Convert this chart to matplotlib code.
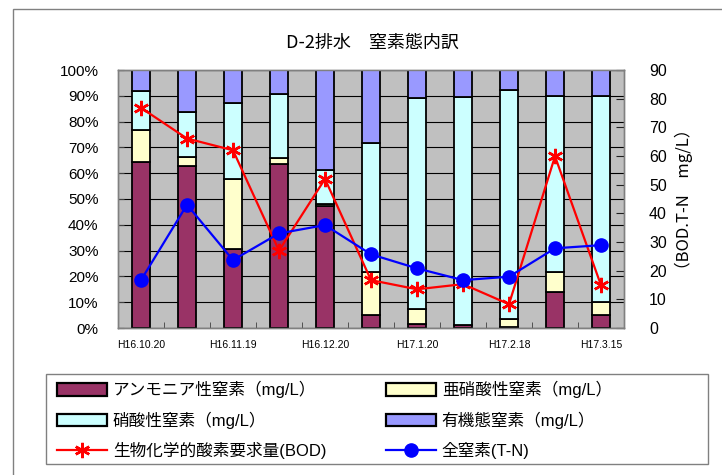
import matplotlib
matplotlib.use("Agg")
import matplotlib.pyplot as plt
from matplotlib.patches import Rectangle, Patch
from matplotlib.lines import Line2D
import numpy as np

plt.rcParams['font.family'] = ['Liberation Sans', 'Noto Sans CJK JP']

# Sampling dates (only every other one is labelled on the axis)
tick_labels = ["H16.10.20", "", "H16.11.19", "", "H16.12.20", "",
               "H17.1.20", "", "H17.2.18", "", "H17.3.15"]

# Nitrogen species shares (%)
ammonia = [64.3, 62.6, 30.5, 63.6, 47.1, 5.2, 1.7, 1.0, 0.2, 14.0, 5.2]
nitrite = [12.6, 3.8, 27.2, 2.2, 0.8, 16.6, 5.8, 0.3, 3.2, 7.8, 4.9]
nitrate = [14.8, 17.3, 29.5, 25.0, 13.4, 49.9, 81.5, 88.2, 88.8, 68.1, 79.8]
organic = [8.3, 16.3, 12.8, 9.2, 38.7, 28.3, 11.0, 10.5, 7.8, 10.1, 10.1]

# BOD and total nitrogen (mg/L)
bod = [76.8, 66.1, 62.0, 27.0, 52.0, 16.7, 13.5, 15.3, 8.3, 59.9, 14.9]
tn = [16.7, 43.0, 23.7, 33.0, 35.9, 25.7, 20.8, 16.7, 17.9, 27.8, 28.9]

series_names = ["アンモニア性窒素（mg/L）", "亜硝酸性窒素（mg/L）",
                "硝酸性窒素（mg/L）", "有機態窒素（mg/L）"]
series_colors = ["#993366", "#FFFFCC", "#CCFFFF", "#9999FF"]
bod_name = "生物化学的酸素要求量(BOD)"
tn_name = "全窒素(T-N)"

W, H = 722, 475
fig = plt.figure(figsize=(W / 100, H / 100), dpi=100)
fig.patch.set_facecolor("white")

# outer chart frame
fig.add_artist(Rectangle((13 / W, -0.1), 1.2, 1.1 - 9 / H, transform=fig.transFigure,
                         fill=False, edgecolor="#808080", lw=1.0))

L, R, T, B = 118, 624, 70, 328
ax = fig.add_axes([L / W, 1 - B / H, (R - L) / W, (B - T) / H])
ax.set_facecolor("#C0C0C0")

x = np.arange(len(tick_labels))
stack = np.array([ammonia, nitrite, nitrate, organic], dtype=float)
shares = stack / stack.sum(axis=0) * 100
bottom = np.zeros(len(x))
for vals, col in zip(shares, series_colors):
    ax.bar(x, vals, width=0.37, bottom=bottom, color=col,
           edgecolor="black", linewidth=1.3, zorder=3)
    bottom += vals

ax.set_xlim(-0.5, len(x) - 0.5)
ax.set_ylim(0, 100)
ax.set_yticks(np.arange(0, 101, 10))
ax.set_yticklabels([f"{v}%" for v in range(0, 101, 10)], fontsize=11)
ax.yaxis.grid(True, color="black", lw=0.8)
ax.set_axisbelow(True)
ax.tick_params(axis="y", direction="in", length=4, pad=14, color="#404040")
ax.set_xticks(x)
ax.set_xticklabels(tick_labels, fontsize=7.5)
ax.tick_params(axis="x", which="major", length=0, pad=9)
ax.set_xticks(np.arange(0.5, len(x) - 0.5, 1), minor=True)
ax.tick_params(axis="x", which="minor", direction="in", length=4, color="#404040")
for sp in ax.spines.values():
    sp.set_color("#808080")
    sp.set_linewidth(1.0)

ax2 = ax.twinx()
ax2.set_ylim(0, 90)
ax2.set_yticks(np.arange(0, 91, 10))
ax2.tick_params(axis="y", direction="in", length=6, pad=18, labelsize=11.5, color="#202020")
ax2.plot(x, bod, color="#FF0000", lw=1.6, marker=(6, 2, 0), markersize=11,
         markeredgewidth=1.8, zorder=5)
ax2.plot(x, tn, color="#0000FF", lw=1.6, marker="o", markersize=9.5, zorder=6)
ax2.set_ylabel("（BOD.T-N　mg/L）", fontsize=12, rotation=90, labelpad=6,
               family=["Noto Sans CJK JP"])
for sp in ax2.spines.values():
    sp.set_color("#808080")
    sp.set_linewidth(1.0)

fig.text(372 / W, 1 - 43 / H, "D-2排水　窒素態内訳", ha="center", va="center",
         fontsize=13, family=["Noto Sans CJK JP"])

# legend frame and two legend columns
lx0, lx1, ly0, ly1 = 46, 708, 374, 464
fig.add_artist(Rectangle((lx0 / W, 1 - ly1 / H), (lx1 - lx0) / W, (ly1 - ly0) / H,
                         transform=fig.transFigure, fill=False,
                         edgecolor="#808080", lw=1.0))

def patch(c):
    return Patch(facecolor=c, edgecolor="black", linewidth=1.6)

bod_handle = Line2D([], [], color="#FF0000", lw=1.6, marker=(6, 2, 0),
                    markersize=11, markeredgewidth=1.8)
tn_handle = Line2D([], [], color="#0000FF", lw=1.6, marker="o", markersize=9.5)

leg_kw = dict(frameon=False, handlelength=3.0, handleheight=0.75,
              handletextpad=0.35, labelspacing=0.8, borderaxespad=0, borderpad=0,
              prop={"family": ["Liberation Sans", "Noto Sans CJK JP"], "size": 12})
leg1 = fig.legend([patch(series_colors[0]), patch(series_colors[2]), bod_handle],
                  [series_names[0], series_names[2], bod_name],
                  loc="upper left", bbox_to_anchor=(57 / W, 1 - 381 / H), **leg_kw)
leg2 = fig.legend([patch(series_colors[1]), patch(series_colors[3]), tn_handle],
                  [series_names[1], series_names[3], tn_name],
                  loc="upper left", bbox_to_anchor=(386 / W, 1 - 381 / H), **leg_kw)

fig.savefig("out.png", dpi=100)
